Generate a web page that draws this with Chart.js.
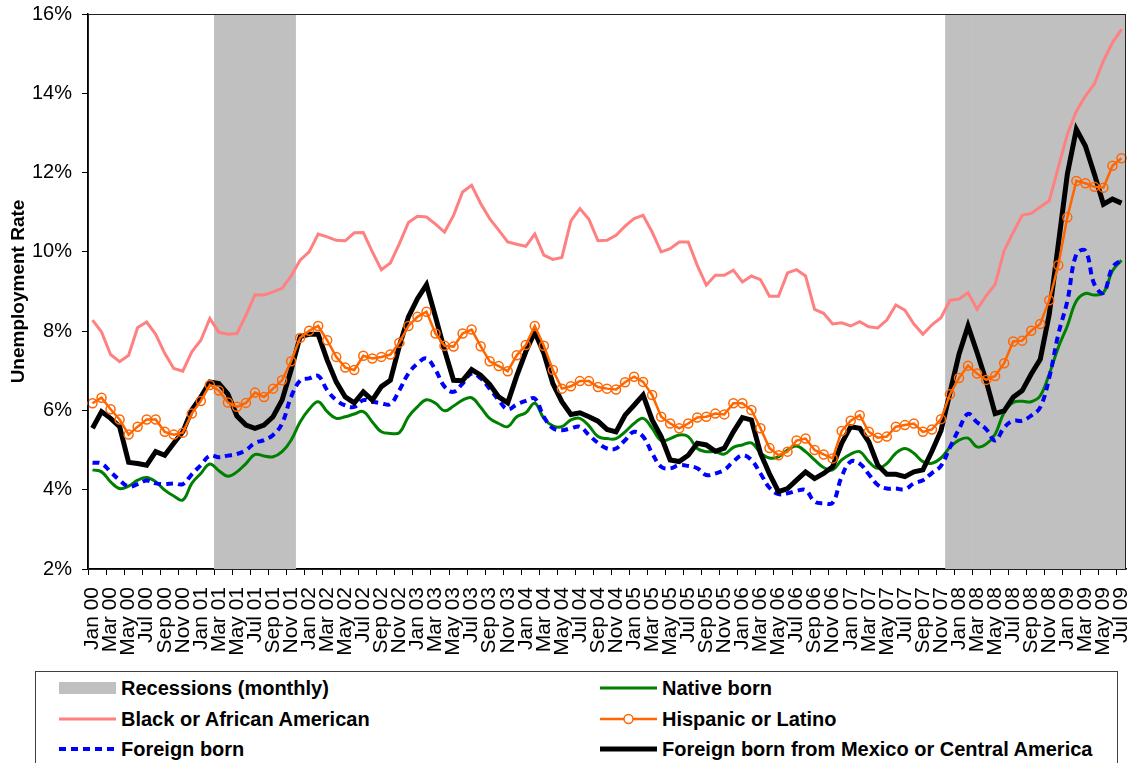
<!DOCTYPE html>
<html>
<head>
<meta charset="utf-8">
<script src="https://cdn.jsdelivr.net/npm/chart.js@4.4.1/dist/chart.umd.min.js"></script>
<style>
  body { margin: 0; background: #fff; font-family: "Liberation Sans", Arial, sans-serif; }
  #wrap { position: relative; width: 1132px; height: 763px; overflow: hidden; }
  #chart { position: absolute; left: 0; top: 0; }
  #legend { position: absolute; left: 35px; top: 671px; width: 1083px; height: 140px; border: 1px solid #404040; box-sizing: border-box; }
  .item { position: absolute; height: 30px; display: flex; align-items: center; font-weight: bold; font-size: 20px; color: #000; white-space: nowrap; }
  .item svg { margin-right: 5px; }
</style>
</head>
<body>
<div id="wrap">
  <canvas id="chart" width="1132" height="660"></canvas>
  <div id="legend"></div>
</div>
<script>
const monthNames = ['Jan', 'Feb', 'Mar', 'Apr', 'May', 'Jun', 'Jul', 'Aug', 'Sep', 'Oct', 'Nov', 'Dec'];
const years = ['00', '01', '02', '03', '04', '05', '06', '07', '08', '09'];
const lastLabel = 'Jul 09';

const labels = [];
for (const y of years) {
    for (const m of monthNames) {
        if (labels[labels.length - 1] === lastLabel) break;
        labels.push(m + ' ' + y);
    }
}

// recession periods (first and last month)
const recessions = [['Mar 01', 'Nov 01'], ['Dec 07', 'Jul 09']];

const blackAfrican = [
    8.28, 7.98, 7.41, 7.23, 7.39, 8.09, 8.23, 7.92, 7.44, 7.06,
    6.99, 7.48, 7.77, 8.32, 7.97, 7.92, 7.94, 8.40, 8.92, 8.91,
    8.99, 9.08, 9.39, 9.79, 10.00, 10.45, 10.38, 10.29, 10.28, 10.48,
    10.49, 10.00, 9.55, 9.72, 10.21, 10.74, 10.90, 10.88, 10.70, 10.50,
    10.92, 11.51, 11.68, 11.22, 10.84, 10.55, 10.25, 10.19, 10.14, 10.45,
    9.92, 9.81, 9.86, 10.78, 11.09, 10.82, 10.28, 10.29, 10.42, 10.65,
    10.84, 10.92, 10.50, 10.00, 10.08, 10.25, 10.25, 9.66, 9.16, 9.41,
    9.41, 9.54, 9.24, 9.39, 9.30, 8.88, 8.88, 9.47, 9.55, 9.39,
    8.55, 8.45, 8.18, 8.21, 8.13, 8.24, 8.11, 8.08, 8.28, 8.66,
    8.53, 8.18, 7.92, 8.16, 8.34, 8.78, 8.81, 8.97, 8.55, 8.89,
    9.18, 10.03, 10.49, 10.92, 10.97, 11.13, 11.29, 12.13, 12.97, 13.55,
    13.93, 14.24, 14.82, 15.28, 15.61
];

const hispanic = [
    6.18, 6.32, 6.03, 5.77, 5.39, 5.59, 5.77, 5.77, 5.46, 5.39,
    5.44, 5.92, 6.24, 6.64, 6.50, 6.20, 6.09, 6.19, 6.45, 6.34,
    6.55, 6.76, 7.24, 7.83, 8.01, 8.13, 7.77, 7.35, 7.08, 7.02,
    7.38, 7.31, 7.35, 7.41, 7.71, 8.13, 8.36, 8.49, 7.94, 7.63,
    7.61, 7.94, 8.04, 7.62, 7.24, 7.12, 6.99, 7.39, 7.65, 8.13,
    7.63, 7.02, 6.55, 6.61, 6.74, 6.74, 6.59, 6.55, 6.53, 6.71,
    6.85, 6.72, 6.39, 5.84, 5.67, 5.55, 5.67, 5.82, 5.84, 5.92,
    5.90, 6.18, 6.18, 6.01, 5.55, 5.05, 4.87, 4.96, 5.24, 5.29,
    5.00, 4.89, 4.79, 5.48, 5.74, 5.88, 5.46, 5.31, 5.34, 5.59,
    5.63, 5.67, 5.46, 5.52, 5.78, 6.41, 6.82, 7.13, 6.93, 6.77,
    6.87, 7.19, 7.74, 7.76, 8.01, 8.18, 8.78, 9.66, 10.87, 11.79,
    11.73, 11.64, 11.62, 12.17, 12.36
];

const mexicoCentral = [
    5.55, 5.97, 5.80, 5.59, 4.69, 4.66, 4.62, 4.96, 4.87, 5.17,
    5.46, 6.01, 6.34, 6.72, 6.68, 6.41, 5.86, 5.63, 5.55, 5.63,
    5.84, 6.26, 7.02, 7.86, 7.92, 7.92, 7.27, 6.72, 6.34, 6.19,
    6.47, 6.26, 6.60, 6.76, 7.63, 8.36, 8.82, 9.17, 8.36, 7.52,
    6.76, 6.75, 7.03, 6.89, 6.66, 6.34, 6.19, 6.87, 7.48, 7.98,
    7.44, 6.68, 6.22, 5.90, 5.94, 5.84, 5.73, 5.52, 5.46, 5.88,
    6.13, 6.39, 5.76, 5.34, 4.75, 4.71, 4.87, 5.17, 5.13, 4.97,
    5.05, 5.46, 5.82, 5.76, 4.92, 4.40, 3.95, 4.03, 4.24, 4.45,
    4.28, 4.41, 4.58, 5.17, 5.59, 5.55, 5.21, 4.62, 4.39, 4.39,
    4.33, 4.45, 4.50, 4.97, 5.49, 6.45, 7.42, 8.13, 7.46, 6.75,
    5.92, 5.99, 6.33, 6.50, 6.92, 7.29, 8.43, 10.19, 11.96, 13.09,
    12.67, 11.96, 11.20, 11.33, 11.23
];

const foreignBorn = [
    4.68, 4.66, 4.45, 4.24, 4.08, 4.14, 4.23, 4.16, 4.14, 4.16,
    4.14, 4.39, 4.62, 4.86, 4.82, 4.86, 4.90, 5.00, 5.18, 5.25,
    5.38, 5.67, 6.34, 6.75, 6.81, 6.87, 6.51, 6.26, 6.13, 6.09,
    6.26, 6.22, 6.18, 6.16, 6.51, 6.93, 7.18, 7.31, 7.02, 6.60,
    6.47, 6.68, 6.93, 6.81, 6.55, 6.26, 6.03, 6.15, 6.24, 6.30,
    5.84, 5.55, 5.50, 5.55, 5.59, 5.38, 5.18, 5.04, 5.04, 5.25,
    5.46, 5.34, 4.92, 4.58, 4.54, 4.62, 4.60, 4.54, 4.37, 4.41,
    4.50, 4.71, 4.87, 4.75, 4.41, 4.05, 3.89, 3.91, 3.97, 3.99,
    3.70, 3.66, 3.67, 4.33, 4.71, 4.66, 4.39, 4.12, 4.03, 4.03,
    4.01, 4.16, 4.24, 4.42, 4.60, 5.07, 5.53, 5.91, 5.70, 5.53,
    5.24, 5.57, 5.74, 5.74, 5.87, 6.08, 6.83, 7.92, 8.76, 9.94,
    10.03, 9.18, 8.97, 9.61, 9.79
];

const nativeBorn = [
    4.50, 4.45, 4.20, 4.03, 4.09, 4.24, 4.31, 4.20, 3.99, 3.84,
    3.74, 4.16, 4.41, 4.65, 4.48, 4.34, 4.45, 4.66, 4.89, 4.85,
    4.83, 4.96, 5.25, 5.71, 6.03, 6.22, 5.97, 5.80, 5.84, 5.91,
    5.97, 5.71, 5.46, 5.42, 5.44, 5.84, 6.09, 6.27, 6.18, 5.99,
    6.11, 6.26, 6.32, 6.08, 5.80, 5.67, 5.59, 5.84, 5.94, 6.18,
    5.80, 5.61, 5.59, 5.76, 5.80, 5.61, 5.34, 5.29, 5.29, 5.46,
    5.67, 5.80, 5.55, 5.24, 5.29, 5.38, 5.34, 5.04, 4.96, 4.96,
    4.90, 5.07, 5.13, 5.18, 4.93, 4.80, 4.83, 5.00, 5.10, 4.96,
    4.75, 4.56, 4.50, 4.75, 4.90, 4.96, 4.71, 4.54, 4.66, 4.92,
    5.04, 4.92, 4.71, 4.67, 4.80, 5.07, 5.25, 5.30, 5.08, 5.15,
    5.40, 5.95, 6.20, 6.23, 6.22, 6.37, 6.92, 7.59, 8.13, 8.76,
    8.95, 8.91, 8.97, 9.52, 9.79
];

const yMin = 2, yMax = 16;

// bar heights for recession months: full height of the plot
const recessionBars = labels.map(() => null);
recessions.forEach(([a, b]) => {
    for (let i = labels.indexOf(a); i <= labels.indexOf(b); i++) recessionBars[i] = yMax;
});

const FONT = '"Liberation Sans", Arial, sans-serif';

const plotBorder = {
    id: 'plotBorder',
    afterDatasetsDraw(chart) {
        const { ctx, chartArea: a } = chart;
        ctx.save();
        ctx.strokeStyle = '#222';
        ctx.lineWidth = 1;
        ctx.strokeRect(a.left + 0.5, a.top + 0.5, a.right - a.left - 1, a.bottom - a.top);
        ctx.restore();
    }
};

const chart = new Chart(document.getElementById('chart'), {
    data: {
        labels: labels,
        datasets: [
            {
                type: 'bar', label: 'Recessions (monthly)', data: recessionBars,
                backgroundColor: '#C0C0C0', borderWidth: 0,
                barPercentage: 1, categoryPercentage: 1, order: 10
            },
            {
                type: 'line', label: 'Black or African American', data: blackAfrican,
                borderColor: '#FF8080', borderWidth: 3, pointRadius: 0, tension: 0, order: 6
            },
            {
                type: 'line', label: 'Native born', data: nativeBorn,
                borderColor: '#008000', borderWidth: 3, pointRadius: 0, tension: 0.4, order: 5
            },
            {
                type: 'line', label: 'Foreign born', data: foreignBorn,
                borderColor: '#0000FF', borderWidth: 4, borderDash: [7, 5], pointRadius: 0, tension: 0.4, order: 4
            },
            {
                type: 'line', label: 'Foreign born from Mexico or Central America', data: mexicoCentral,
                borderColor: '#000000', borderWidth: 5, pointRadius: 0, tension: 0, order: 3
            },
            {
                type: 'line', label: 'Hispanic or Latino', data: hispanic,
                borderColor: '#FF6600', borderWidth: 2.5, tension: 0, order: 2,
                pointRadius: 4.5, pointBorderWidth: 1.5, pointBackgroundColor: 'rgba(0,0,0,0)',
                pointBorderColor: '#FF6600'
            }
        ]
    },
    options: {
        responsive: false,
        animation: false,
        layout: { padding: { top: 14, right: 2, left: 0, bottom: 0 } },
        plugins: { legend: { display: false }, tooltip: { enabled: false } },
        scales: {
            x: {
                type: 'category',
                offset: true,
                afterFit: (s) => { s.height = 91; s.paddingLeft = 0; s.paddingRight = 0; },
                border: { color: '#000', width: 1.5 },
                grid: {
                    offset: true, drawOnChartArea: false, tickLength: 6,
                    color: (c) => (c.index % 2 === 0 ? '#000' : 'rgba(0,0,0,0)')
                },
                ticks: {
                    autoSkip: false, maxRotation: 90, minRotation: 90, padding: 12,
                    color: '#000', font: { family: FONT, size: 21 },
                    callback: (v, i) => (i % 2 === 0 ? labels[i] : '')
                }
            },
            y: {
                min: yMin, max: yMax,
                afterFit: (s) => { s.width = 88; s.paddingTop = 0; s.paddingBottom = 0; },
                border: { color: '#000', width: 1.5 },
                grid: { drawOnChartArea: false, tickLength: 6, color: '#000' },
                ticks: {
                    stepSize: 2, padding: 10, color: '#000',
                    font: { family: FONT, size: 20 },
                    callback: (v) => v + '%'
                },
                title: {
                    display: true, text: 'Unemployment Rate', color: '#000',
                    font: { family: FONT, size: 19, weight: 'bold' },
                    padding: { top: 7, bottom: 0 }
                }
            }
        }
    },
    plugins: [plotBorder]
});

// legend laid out in two columns like the original
const legendOrder = [
    ['Recessions (monthly)', 0, 0],
    ['Native born', 1, 0],
    ['Black or African American', 0, 1],
    ['Hispanic or Latino', 1, 1],
    ['Foreign born', 0, 2],
    ['Foreign born from Mexico or Central America', 1, 2]
];
const colLeft = [23, 564];
const rowTop = [1, 32, 62];

function symbolFor(ds) {
    const w = 57, h = 20, mid = 10;
    if (ds.type === 'bar') {
        return `<svg width="${w}" height="${h}"><rect x="0" y="4" width="${w}" height="12" fill="${ds.backgroundColor}"/></svg>`;
    }
    const dash = ds.borderDash ? `stroke-dasharray="${ds.borderDash.join(',')}"` : '';
    let s = `<svg width="${w}" height="${h}"><line x1="0" y1="${mid}" x2="${w}" y2="${mid}" stroke="${ds.borderColor}" stroke-width="${ds.borderWidth}" ${dash}/>`;
    if (ds.pointRadius > 0) {
        s += `<circle cx="${w / 2}" cy="${mid}" r="${ds.pointRadius}" fill="#fff" stroke="${ds.pointBorderColor}" stroke-width="${ds.pointBorderWidth}"/>`;
    }
    return s + '</svg>';
}

const legendBox = document.getElementById('legend');
legendOrder.forEach(([name, col, row]) => {
    const ds = chart.data.datasets.find((d) => d.label === name);
    const item = document.createElement('div');
    item.className = 'item';
    item.style.left = colLeft[col] + 'px';
    item.style.top = rowTop[row] + 'px';
    item.innerHTML = symbolFor(ds) + '<span>' + name + '</span>';
    legendBox.appendChild(item);
});
</script>
</body>
</html>
